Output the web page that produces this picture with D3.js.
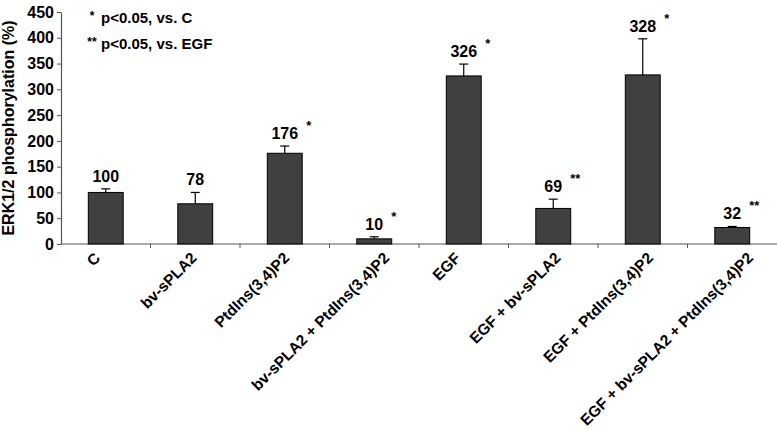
<!DOCTYPE html>
<html>
<head>
<meta charset="utf-8">
<script src="https://cdn.jsdelivr.net/npm/d3@7/dist/d3.min.js"></script>
<style>
  body { margin: 0; background: #fff; }
  svg { display: block; font-family: "Liberation Sans", Arial, sans-serif; }
</style>
</head>
<body>
<div id="chart"></div>
<script>
// data
var categories = ["C", "bv-sPLA2", "PtdIns(3,4)P2", "bv-sPLA2 + PtdIns(3,4)P2",
  "EGF", "EGF + bv-sPLA2", "EGF + PtdIns(3,4)P2", "EGF + bv-sPLA2 + PtdIns(3,4)P2"];
var values = [100, 78, 176, 10, 326, 69, 328, 32];
var errors = [7, 22, 14, 4, 23, 18, 70, 2];
var marks = ["", "", "*", "*", "*", "**", "*", "**"];
var yTicks = [0, 50, 100, 150, 200, 250, 300, 350, 400, 450];
var legendItems = [["*", "p<0.05, vs. C"], ["**", "p<0.05, vs. EGF"]];

var margin = {top: 12, right: 0, bottom: 186, left: 61},
    width = 777 - margin.left - margin.right,
    height = 430 - margin.top - margin.bottom;

var svg = d3.select("#chart").append("svg")
    .attr("width", 777).attr("height", 430)
  .append("g")
    .attr("transform", "translate(" + margin.left + "," + margin.top + ")");

var x = d3.scaleBand().domain(categories).range([0, width]).padding(0);
var y = d3.scaleLinear().domain([0, 450]).range([height, 0]);
var barW = x.bandwidth() * 0.39;

// y axis
var yAxis = svg.append("g")
    .call(d3.axisLeft(y).tickValues(yTicks).tickSize(4).tickSizeOuter(0).tickPadding(3));
yAxis.selectAll("text").attr("font-size", "16px").attr("font-weight", "bold").attr("fill", "#000");
yAxis.select(".domain").attr("stroke", "#555").attr("stroke-width", 1.2);
yAxis.selectAll(".tick line").attr("stroke", "#555");

// x axis: ticks at category boundaries
var xg = svg.append("g").attr("transform", "translate(0," + height + ")");
xg.append("line").attr("x1", 0).attr("x2", width).attr("stroke", "#555").attr("stroke-width", 1.2);
xg.selectAll("line.tk")
  .data(categories.slice(1))
  .enter().append("line")
    .attr("class", "tk")
    .attr("x1", function(d){ return x(d); })
    .attr("x2", function(d){ return x(d); })
    .attr("y1", 0).attr("y2", 4)
    .attr("stroke", "#555");
var xl = xg.selectAll("text")
  .data(categories)
  .enter().append("text")
    .attr("text-anchor", "end")
    .attr("font-size", "15.5px")
    .attr("font-weight", "bold")
    .text(function(d){ return d; });
// longer labels sit a bit further right, like in the original
xl.attr("transform", function(d){
    var len = this.getComputedTextLength();
    return "translate(" + (x(d) + x.bandwidth()/2 - 6 + 0.118 * len) + ",15) rotate(-45)";
});

// error bars (upper only)
var eb = svg.selectAll("g.err")
  .data(categories)
  .enter().append("g").attr("class", "err");
eb.append("line")
    .attr("x1", function(d){ return x(d) + x.bandwidth()/2; })
    .attr("x2", function(d){ return x(d) + x.bandwidth()/2; })
    .attr("y1", function(d, i){ return y(values[i]); })
    .attr("y2", function(d, i){ return y(values[i] + errors[i]); })
    .attr("stroke", "#000").attr("stroke-width", 1.2);
eb.append("line")
    .attr("x1", function(d){ return x(d) + x.bandwidth()/2 - 4.5; })
    .attr("x2", function(d){ return x(d) + x.bandwidth()/2 + 4.5; })
    .attr("y1", function(d, i){ return y(values[i] + errors[i]); })
    .attr("y2", function(d, i){ return y(values[i] + errors[i]); })
    .attr("stroke", "#000").attr("stroke-width", 1.2);

// bars
svg.selectAll("rect.bar")
  .data(categories)
  .enter().append("rect")
    .attr("class", "bar")
    .attr("x", function(d){ return x(d) + (x.bandwidth() - barW)/2; })
    .attr("y", function(d, i){ return y(values[i]); })
    .attr("width", barW)
    .attr("height", function(d, i){ return height - y(values[i]); })
    .attr("fill", "#404040")
    .attr("stroke", "#000")
    .attr("stroke-width", 1);

// value labels
svg.selectAll("text.val")
  .data(categories)
  .enter().append("text")
    .attr("class", "val")
    .attr("x", function(d){ return x(d) + x.bandwidth()/2; })
    .attr("y", function(d, i){ return y(values[i] + errors[i]) - 7; })
    .attr("text-anchor", "middle")
    .attr("font-size", "16px")
    .attr("font-weight", "bold")
    .text(function(d, i){ return values[i]; });

// significance marks
svg.selectAll("text.sig")
  .data(categories)
  .enter().append("text")
    .attr("class", "sig")
    .attr("x", function(d, i){ return x(d) + x.bandwidth()/2 + (String(values[i]).length * 9) / 2 + 8; })
    .attr("y", function(d, i){ return y(values[i] + errors[i]) - 16; })
    .attr("font-size", "13px")
    .attr("font-weight", "bold")
    .text(function(d, i){ return marks[i]; });

// legend
var lg = svg.selectAll("g.leg")
  .data(legendItems)
  .enter().append("g")
    .attr("class", "leg")
    .attr("transform", function(d, i){ return "translate(20," + (6 + i * 26) + ")"; });
lg.append("text")
    .attr("x", 11).attr("y", 2)
    .attr("text-anchor", "middle")
    .attr("font-size", "12px").attr("font-weight", "bold")
    .text(function(d){ return d[0]; });
lg.append("text")
    .attr("x", 20).attr("y", 5)
    .attr("font-size", "15px").attr("font-weight", "bold")
    .text(function(d){ return d[1]; });

// y title
svg.append("text")
    .attr("transform", "translate(-47," + (height/2) + ") rotate(-90)")
    .attr("text-anchor", "middle")
    .attr("font-size", "16px")
    .attr("font-weight", "bold")
    .text("ERK1/2 phosphorylation (%)");
</script>
</body>
</html>
